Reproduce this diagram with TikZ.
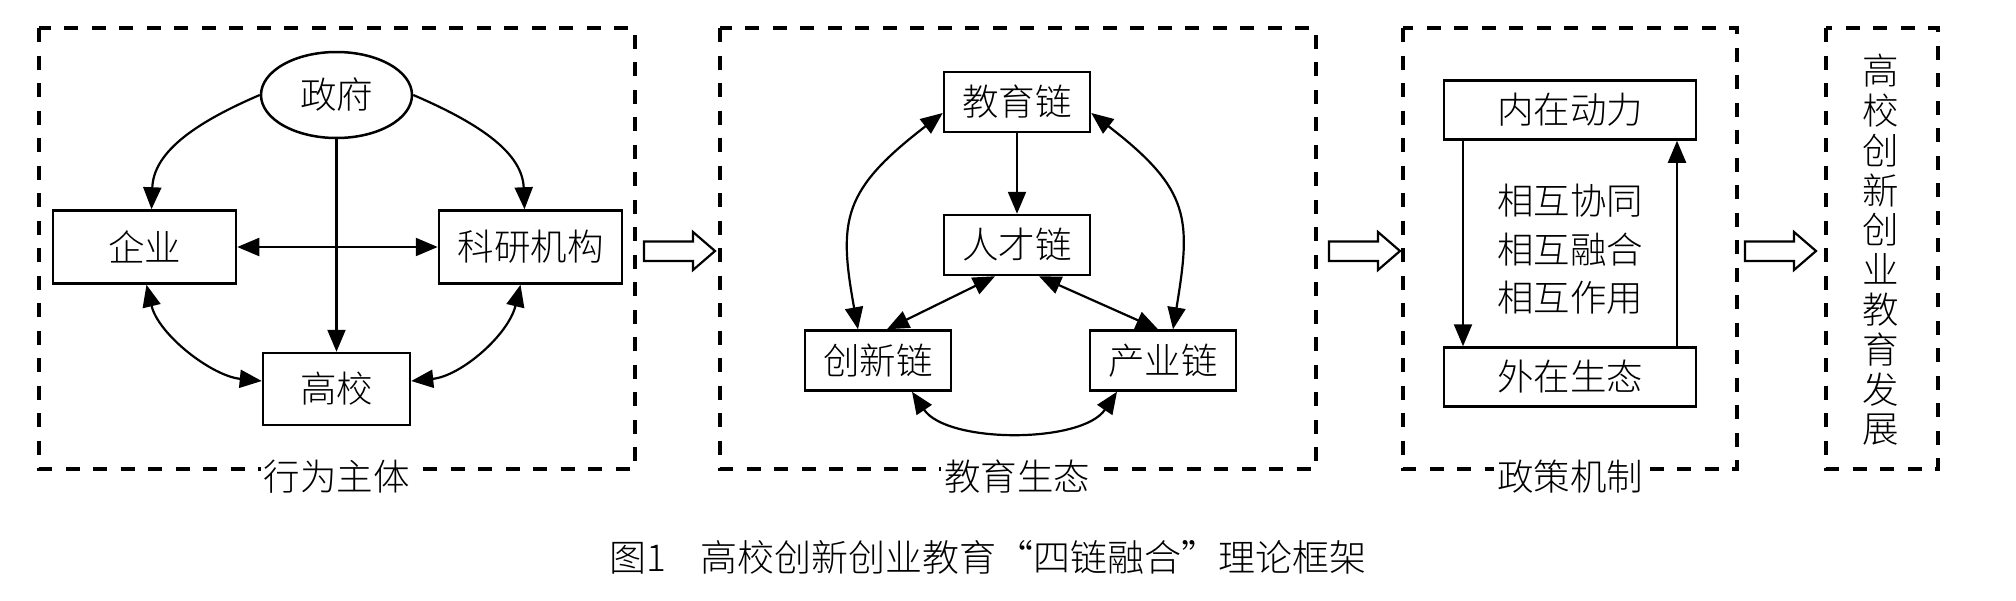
\documentclass[tikz,border=0pt]{standalone}
\usepackage{fontspec}
\newfontfamily\cjk{Noto Sans CJK SC}[UprightFont={* Light}]
\usetikzlibrary{arrows.meta,shapes.geometric}
\begin{document}
\begin{tikzpicture}[x=1pt,y=-1pt,
  >={Triangle[length=22pt,width=18pt]},
  every node/.style={font=\cjk\fontsize{36.5pt}{40pt}\selectfont},
  panel/.style={line width=4pt, dash pattern=on 14pt off 13.5pt},
  lab/.style={fill=white, inner sep=3pt},
  box/.style={draw, line width=2.5pt, inner sep=0pt},
  conn/.style={line width=2.2pt},
  hollow/.style={line width=2.2pt, fill=white, line join=miter}]
\useasboundingbox (0,0) rectangle (2016,600);
% panels
\draw[panel] (39,28) rectangle (635,469);
\node[lab] (l1) at (336.5,477) {行为主体};
\draw[panel] (720,28) rectangle (1316,469);
\node[lab] (l2) at (1017,477) {教育生态};
\draw[panel] (1403,28) rectangle (1737,469);
\node[lab] (l3) at (1570,477) {政策机制};
\draw[panel] (1826,28) rectangle (1938,469);
% panel 1
\node[ellipse, draw, line width=2.5pt, minimum width=151pt, minimum height=86pt, inner sep=0pt] (gov) at (336.5,95) {政府};
\node[box, minimum width=183pt, minimum height=73pt] (qiye) at (144.5,247) {企业};
\node[box, minimum width=183pt, minimum height=73pt] (keyan) at (530.5,247) {科研机构};
\node[box, minimum width=147pt, minimum height=72pt] (gx) at (336.5,389) {高校};
\draw[conn,->] (gov.south) -- (gx.north);
\draw[conn,<->] (qiye.east) -- (keyan.west);
\draw[conn,->] (gov.west) .. controls +(-70,30) and +(2,-55) .. ([xshift=7pt]qiye.north);
\draw[conn,->] (gov.east) .. controls +(70,30) and +(-2,-55) .. ([xshift=-6pt]keyan.north);
\draw[conn,<->] ([xshift=2pt]qiye.south) .. controls +(12,50) and +(-50,-5) .. ([yshift=8pt]gx.west);
\draw[conn,<->] ([xshift=-10pt]keyan.south) .. controls +(-12,50) and +(50,-5) .. ([yshift=8pt]gx.east);
% panel 2
\node[box, minimum width=146pt, minimum height=60pt] (jy) at (1017,102) {教育链};
\node[box, minimum width=146pt, minimum height=60pt] (rc) at (1017,245) {人才链};
\node[box, minimum width=146pt, minimum height=60pt] (cx) at (878,360.5) {创新链};
\node[box, minimum width=146pt, minimum height=60pt] (cy) at (1163,360.5) {产业链};
\draw[conn,->] (jy.south) -- (rc.north);
\draw[conn,<->] ([xshift=-22pt]rc.south) -- ([xshift=9pt]cx.north);
\draw[conn,<->] ([xshift=22pt]rc.south) -- ([xshift=-5pt]cy.north);
\draw[conn,<->] ([yshift=-11pt]jy.west) .. controls +(-100,77) and +(-20,-110) .. ([xshift=-20pt]cx.north);
\draw[conn,<->] ([yshift=-11pt]jy.east) .. controls +(100,77) and +(18,-110) .. ([xshift=10pt]cy.north);
\draw[conn,<->] ([xshift=34pt]cx.south) .. controls +(35,52) and +(-35,52) .. ([xshift=-46pt]cy.south);
% panel 3
\node[box, minimum width=252pt, minimum height=59pt] (nz) at (1570,110) {内在动力};
\node[box, minimum width=252pt, minimum height=59pt] (wz) at (1570,377) {外在生态};
\draw[conn,->] ([xshift=-107pt]nz.south) -- ([xshift=-107pt]wz.north);
\draw[conn,->] ([xshift=107pt]wz.north) -- ([xshift=107pt]nz.south);
\node[align=center, font=\cjk\fontsize{36.5pt}{48.5pt}\selectfont] (xh) at (1570,249.5) {相互协同\\相互融合\\相互作用};
% panel 4
\node[align=center, font=\cjk\fontsize{36.5pt}{39.8pt}\selectfont] (fz) at (1881,250) {高\\校\\创\\新\\创\\业\\教\\育\\发\\展};
% hollow arrows
\draw[hollow] (644,241.5) -- (693,241.5) -- (693,232) -- (715,251) -- (693,270) -- (693,261) -- (644,261) -- cycle;
\draw[hollow] (1329,241.5) -- (1378,241.5) -- (1378,232) -- (1400,251) -- (1378,270) -- (1378,261) -- (1329,261) -- cycle;
\draw[hollow] (1745,241.5) -- (1794,241.5) -- (1794,232) -- (1816,251) -- (1794,270) -- (1794,261) -- (1745,261) -- cycle;
% caption
\node[font=\cjk\fontsize{37pt}{40pt}\selectfont] (cap) at (988,557) {图1\hspace{0.9em}高校创新创业教育“四链融合”理论框架};
\end{tikzpicture}
\end{document}
